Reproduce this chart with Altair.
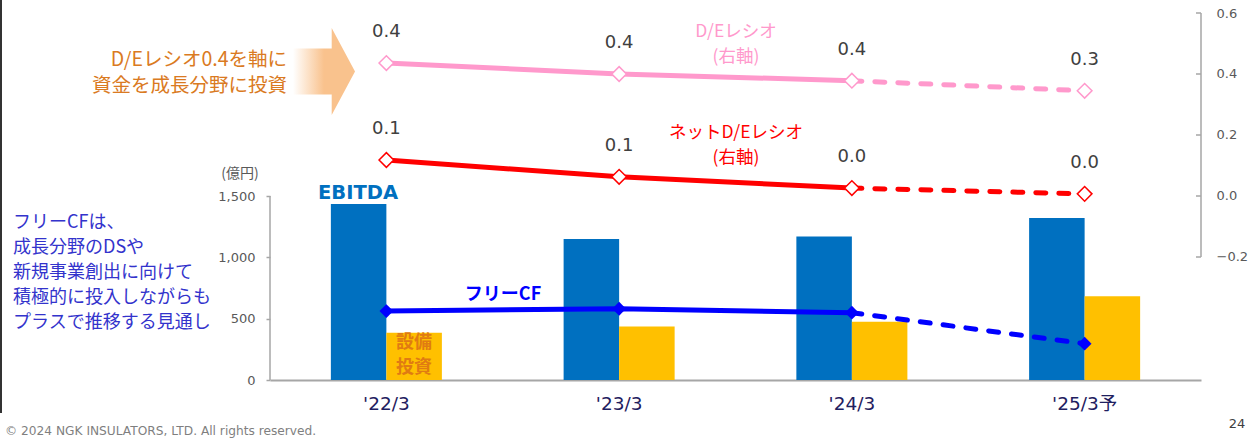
import altair as alt
import pandas as pd

# ---- data -------------------------------------------------------------
periods = ["'22/3", "'23/3", "'24/3", "'25/3予"]
bar_series = ["EBITDA", "設備投資"]
ebitda = [1435, 1150, 1170, 1320]          # 億円
capex = [385, 437, 475, 682]               # 億円
free_cf = [562, 581, 549, 296]             # 億円
de_ratio = [0.436, 0.400, 0.378, 0.345]    # D/Eレシオ (右軸)
net_de_ratio = [0.118, 0.063, 0.026, 0.007]  # ネットD/Eレシオ (右軸)
actual_periods = periods[:3]
forecast_periods = periods[2:]
left_ticks = [0, 500, 1000, 1500]
right_ticks = [-0.2, 0.0, 0.2, 0.4, 0.6]

bars_df = pd.DataFrame({
    "period": periods * 2,
    "series": [bar_series[0]] * len(periods) + [bar_series[1]] * len(periods),
    "value": ebitda + capex,
})
lines_df = pd.DataFrame({
    "period": periods,
    "fcf": free_cf,
    "de": de_ratio,
    "net_de": net_de_ratio,
})
left_rule_df = pd.DataFrame({"lo": [left_ticks[0]], "hi": [left_ticks[-1]]})
right_rule_df = pd.DataFrame({"lo": [right_ticks[0]], "hi": [right_ticks[-1]]})
right_tick_df = pd.DataFrame({"v": right_ticks})
blank = alt.Data(values=[{}])

# ---- layout & styles --------------------------------------------------
W, H = 931, 367
JP = "Noto Sans CJK JP"
NUM = "DejaVu Sans, Noto Sans CJK JP"
AXIS_GREY = "#A6A6A6"

x_enc = alt.X(
    "period:N",
    sort=periods,
    scale=alt.Scale(domain=periods, paddingInner=0.523, paddingOuter=0.2615),
    axis=alt.Axis(
        title=None, labelAngle=0, ticks=False, domainColor=AXIS_GREY,
        domainWidth=2, labelFont=NUM, labelFontSize=18.5, labelColor="#1F2060",
        labelPadding=14, grid=False,
    ),
)

left_scale = alt.Scale(domain=[0, 2992], nice=False, zero=False)
right_scale = alt.Scale(domain=[-0.6033, 0.6], nice=False, zero=False)

left_axis = alt.Axis(
    title=None, values=left_ticks, format=",.0f", domain=False, ticks=True,
    tickSize=4, tickColor=AXIS_GREY, tickWidth=1.5, labelFont=NUM,
    labelFontSize=13, labelColor="#595959", labelPadding=11, grid=False,
)
right_axis = alt.Axis(
    title=None, orient="right", values=right_ticks, format=".1f",
    domain=False, ticks=False, labelFont=NUM, labelFontSize=13,
    labelColor="#595959", labelPadding=15, grid=False,
)


def left_y(field):
    return alt.Y(field, scale=left_scale, axis=left_axis)


def right_y(field):
    return alt.Y(field, scale=right_scale, axis=right_axis)


DASH = [10, 13]

# ---- left axis group: bars and free cash flow -------------------------
bars = alt.Chart(bars_df).mark_bar().encode(
    x=x_enc,
    xOffset=alt.XOffset(
        "series:N",
        sort=bar_series,
        scale=alt.Scale(domain=bar_series, paddingInner=0, paddingOuter=0),
    ),
    y=left_y("value:Q"),
    color=alt.Color(
        "series:N",
        scale=alt.Scale(domain=bar_series, range=["#0070C0", "#FFC000"]),
        legend=None,
    ),
)

left_rule = alt.Chart(left_rule_df).mark_rule(
    color=AXIS_GREY, strokeWidth=1.5
).encode(x=alt.value(0), y=left_y("lo:Q"), y2="hi:Q")

fcf_solid = alt.Chart(lines_df).transform_filter(
    alt.FieldOneOfPredicate(field="period", oneOf=actual_periods)
).mark_line(color="#0000FF", strokeWidth=5).encode(x=x_enc, y=left_y("fcf:Q"))

fcf_dash = alt.Chart(lines_df).transform_filter(
    alt.FieldOneOfPredicate(field="period", oneOf=forecast_periods)
).mark_line(
    color="#0000FF", strokeWidth=5, strokeDash=DASH, strokeCap="round"
).encode(x=x_enc, y=left_y("fcf:Q"))

fcf_pts = alt.Chart(lines_df).mark_point(
    shape="diamond", filled=True, color="#0000FF", size=190, opacity=1
).encode(x=x_enc, y=left_y("fcf:Q"))

left_group = alt.layer(left_rule, bars, fcf_solid, fcf_dash, fcf_pts)

# ---- right axis group: D/E ratios --------------------------------------
right_rule = alt.Chart(right_rule_df).mark_rule(
    color=AXIS_GREY, strokeWidth=1.5
).encode(x=alt.value(W), y=right_y("lo:Q"), y2="hi:Q")

right_ticks_in = alt.Chart(right_tick_df).mark_rule(
    color=AXIS_GREY, strokeWidth=1.5
).encode(x=alt.value(W - 5), x2=alt.value(W), y=right_y("v:Q"))


def ratio_layers(field, color):
    solid = alt.Chart(lines_df).transform_filter(
        alt.FieldOneOfPredicate(field="period", oneOf=actual_periods)
    ).mark_line(color=color, strokeWidth=5).encode(x=x_enc, y=right_y(f"{field}:Q"))
    dash = alt.Chart(lines_df).transform_filter(
        alt.FieldOneOfPredicate(field="period", oneOf=forecast_periods)
    ).mark_line(
        color=color, strokeWidth=5, strokeDash=DASH, strokeCap="round"
    ).encode(x=x_enc, y=right_y(f"{field}:Q"))
    pts = alt.Chart(lines_df).mark_point(
        shape="diamond", filled=True, fill="white", stroke=color,
        strokeWidth=1.5, size=215, opacity=1,
    ).encode(x=x_enc, y=right_y(f"{field}:Q"))
    labels = alt.Chart(lines_df).mark_text(
        dy=-31, font=NUM, fontSize=18, color="#404040"
    ).encode(
        x=x_enc, y=right_y(f"{field}:Q"),
        text=alt.Text(f"{field}:Q", format=".1f"),
    )
    return [solid, dash, pts, labels]


right_group = alt.layer(
    right_rule, right_ticks_in,
    *ratio_layers("de", "#FF99CC"),
    *ratio_layers("net_de", "#FF0000"),
)


# ---- annotations (y is the centre of the first line) ------------------
def note(text, x, y, color, size, bold=False, align="center", font=JP, lh=None):
    kw = dict(text=text, color=color, fontSize=size, font=font, align=align,
              baseline="middle", fontWeight="bold" if bold else "normal")
    if lh is not None:
        kw["lineHeight"] = lh
    return alt.Chart(blank).mark_text(**kw).encode(x=alt.value(x), y=alt.value(y))


arrow_path = ("M -0.713 -0.53 L 0.177 -0.53 L 0.177 -1 L 0.713 0 "
              "L 0.177 1 L 0.177 0.53 L -0.713 0.53 Z")
arrow = alt.Chart(blank).mark_point(
    shape=arrow_path, size=7569, filled=True, opacity=1, strokeWidth=0,
    fill=alt.Gradient(
        gradient="linear", x1=0, x2=1, y1=0, y2=0,
        stops=[
            alt.GradientStop(offset=0, color="#FFFFFF"),
            alt.GradientStop(offset=0.5, color="#F9C28D"),
            alt.GradientStop(offset=1, color="#F9C28D"),
        ],
    ),
).encode(x=alt.value(54), y=alt.value(58.5))

page_edge = alt.Chart(blank).mark_rule(color="#333333", strokeWidth=2).encode(
    x=alt.value(-269), y=alt.value(-13), y2=alt.value(400)
)

notes = [
    page_edge,
    arrow,
    note("D/Eレシオ0.4を軸に", 17, 47, "#DA7A22", 19.5, align="right"),
    note("資金を成長分野に投資", 17, 72.5, "#DA7A22", 19.5, align="right"),
    note(["フリーCFは、", "成長分野のDSや", "新規事業創出に向けて",
          "積極的に投入しながらも", "プラスで推移する見通し"],
         -257, 209.5, "#3333CC", 18, align="left", lh=25),
    note("(億円)", -30, 161, "#595959", 14),
    note("EBITDA", 88, 180, "#0070C0", 19.5, bold=True, font=NUM),
    note("フリーCF", 233, 282, "#0000FF", 18, bold=True),
    note(["設備", "投資"], 144, 330, "#E07B12", 18, bold=True, lh=25),
    note(["D/Eレシオ", "(右軸)"], 466, 19, "#FF99CC", 17.5, lh=25),
    note(["ネットD/Eレシオ", "(右軸)"], 466, 120, "#FF0000", 17.5, lh=25),
    note("© 2024 NGK INSULATORS, LTD. All rights reserved.", -265, 418,
         "#7F7F7F", 12.2, align="left", font=NUM),
    note("24", 967, 411, "#404040", 13, font=NUM),
]

chart = alt.layer(left_group, right_group, *notes).resolve_scale(
    y="independent"
).properties(
    width=W,
    height=H,
    autosize=alt.AutoSizeParams(type="none"),
    padding={"left": 270, "top": 13, "right": 50, "bottom": 59},
    background="white",
).configure_view(stroke=None)

chart.save("out.html", embed_options={"renderer": "svg", "actions": False})
